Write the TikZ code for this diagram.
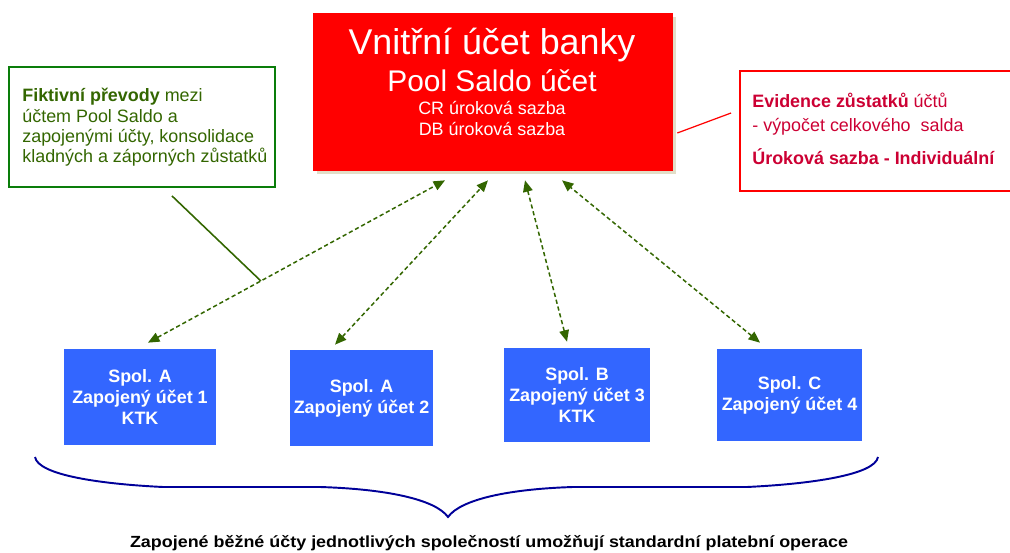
\documentclass[tikz,border=0pt]{standalone}
\usepackage{fontspec}
\usepackage{graphicx}
\setmainfont{Liberation Sans}
\usetikzlibrary{arrows.meta,shadows}
\definecolor{poolred}{RGB}{255,0,0}
\definecolor{acctblue}{RGB}{51,102,255}
\definecolor{linkgreen}{RGB}{51,102,0}
\definecolor{boxgreen}{RGB}{10,125,10}
\definecolor{notered}{RGB}{204,0,51}
\definecolor{bracenavy}{RGB}{0,0,153}
\definecolor{shadowgray}{RGB}{226,222,200}
\def\acctfont{\fontsize{10.2}{11.9}\selectfont\bfseries}
\def\notefont{\fontsize{10.2}{11.9}\selectfont}
\def\tip{Triangle[length=6.5pt,width=5.5pt]}

\begin{document}
\begin{tikzpicture}[x=0.02cm,y=-0.02cm,
		acct/.style={fill=acctblue,text=white,font=\acctfont,align=center,inner sep=0pt},
		link/.style={linkgreen,line width=0.85pt,dash pattern=on 2.4pt off 1.6pt,{\tip}-{\tip}},
		poolline/.style={text=white,anchor=base,inner sep=0pt},
		noteline/.style={anchor=base west,inner sep=0pt,font=\notefont}]
			\useasboundingbox (0,0) rectangle (1010,553);
			\node[fill=poolred,minimum width=7.2cm,minimum height=3.16cm,inner sep=0pt,
				general shadow={fill=shadowgray,shadow xshift=0.07cm,shadow yshift=-0.07cm}] (pool) at (493,92) {};
			\node[poolline,font=\fontsize{20.4}{24}\selectfont] (title) at (492,55) {Vnitřní účet banky};
			\node[poolline,font=\fontsize{17}{20}\selectfont] (saldo) at (492,92) {Pool Saldo účet};
			\node[poolline,font=\notefont] (cr) at (492,115) {CR úroková sazba};
			\node[poolline,font=\notefont] (db) at (492,136) {DB úroková sazba};

			\node[draw=boxgreen,line width=1.1pt,minimum width=5.32cm,minimum height=2.4cm] (fict) at (142,127) {};
			\begin{scope}[text=linkgreen]
				\node[noteline] (f1) at (22,102) {\textbf{Fiktivní převody} mezi};
				\node[noteline] (f2) at (22,123) {účtem Pool Saldo a};
				\node[noteline] (f3) at (22,143) {zapojenými účty, konsolidace};
				\node[noteline] (f4) at (22,163) {kladných a záporných zůstatků};
			\end{scope}

			\node[draw=poolred,line width=1.1pt,minimum width=5.8cm,minimum height=2.4cm] (note) at (885,131) {};
			\begin{scope}[text=notered]
				\node[noteline] (e1) at (752,108) {\textbf{Evidence zůstatků} účtů};
				\node[noteline] (e2) at (752,132) {- výpočet celkového\ \ salda};
				\node[noteline] (e3) at (752,165) {\textbf{Úroková sazba - Individuální}};
			\end{scope}

			\node[acct,minimum width=3.04cm,minimum height=1.92cm] (b1) at (140,397) {Spol. A\\Zapojený účet 1\\KTK};
			\node[acct,minimum width=2.86cm,minimum height=1.92cm] (b2) at (361.5,398) {Spol. A\\Zapojený účet 2};
			\node[acct,minimum width=2.92cm,minimum height=1.88cm] (b3) at (577,395) {Spol. B\\Zapojený účet 3\\KTK};
			\node[acct,minimum width=2.9cm,minimum height=1.84cm] (b4) at (789.5,395) {Spol. C\\Zapojený účet 4};

			\draw[link] ([shift={(8,-6)}]b1.north) -- coordinate[pos=0.38] (m1) ([shift={(-48,9)}]pool.south);
			\draw[link] ([shift={(-26.5,-5)}]b2.north) -- ([shift={(-5,9)}]pool.south);
			\draw[link] ([shift={(-10,-6)}]b3.north) -- ([shift={(32,9)}]pool.south);
			\draw[link] ([shift={(-29.5,-6)}]b4.north) -- ([shift={(69,9)}]pool.south);

			\draw[linkgreen,line width=0.9pt] ([shift={(30,8)}]fict.south) -- (m1);
			\draw[poolred,line width=0.7pt] ([shift={(4,41)}]pool.east) -- ([shift={(-8,-18)}]note.west);

			\draw[bracenavy,line width=1.1pt] (35,457) .. controls (38,475) and (100,484) .. (163,487) -- (320,487)
				.. controls (385,489) and (435,499) .. (448,517) .. controls (461,499) and (510,489) .. (573,487)
				-- (747,487) .. controls (810,484) and (875,475) .. (878,457);
			\node[anchor=base,inner sep=0pt,font=\acctfont] (caption) at (489,547)
				{\scalebox{1}[0.9]{Zapojené běžné účty jednotlivých společností umožňují standardní platební operace}};
		\end{tikzpicture}
\end{document}
